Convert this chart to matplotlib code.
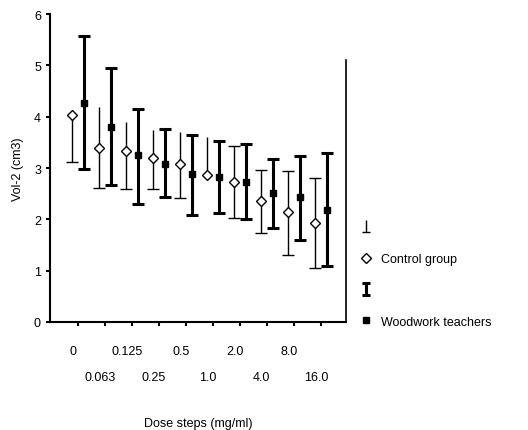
import numpy as np
import matplotlib
matplotlib.use("Agg")
import matplotlib.pyplot as plt
from matplotlib.lines import Line2D
from matplotlib.path import Path

plt.rcParams["font.family"] = ["Liberation Sans", "DejaVu Sans"]

# -----------------------------
# DATA
# -----------------------------
doses = ["0", "0.063", "0.125", "0.25", "0.5", "1.0", "2.0", "4.0", "8.0", "16.0"]

ctrl_mean = [4.04, 3.40, 3.34, 3.20, 3.08, 2.86, 2.72, 2.36, 2.14, 1.92]
ctrl_hi = [4.04, 4.18, 3.89, 3.75, 3.71, 3.60, 3.42, 2.97, 2.95, 2.80]
ctrl_lo = [3.11, 2.62, 2.59, 2.60, 2.41, 2.86, 2.02, 1.73, 1.31, 1.05]

wood_mean = [4.27, 3.79, 3.25, 3.08, 2.88, 2.82, 2.72, 2.51, 2.43, 2.18]
wood_hi = [5.58, 4.94, 4.15, 3.76, 3.64, 3.53, 3.46, 3.18, 3.24, 3.29]
wood_lo = [2.98, 2.67, 2.30, 2.43, 2.09, 2.12, 2.00, 1.83, 1.60, 1.10]

yticks = [0, 1, 2, 3, 4, 5, 6]

# -----------------------------
# FIGURE
# -----------------------------
fig = plt.figure(figsize=(5.28, 4.31), dpi=100)
ax = fig.add_axes([0.0947, 0.2506, 0.5603, 0.7144])

x = np.arange(len(doses))
off = 0.22
ctrl_mean = np.array(ctrl_mean)
wood_mean = np.array(wood_mean)
ctrl_err = [ctrl_mean - np.array(ctrl_lo), np.array(ctrl_hi) - ctrl_mean]
wood_err = [wood_mean - np.array(wood_lo), np.array(wood_hi) - wood_mean]

# control group: thin bars, cap at the low end
ax.errorbar(x - off, ctrl_mean, yerr=ctrl_err, fmt="none", ecolor="black",
            elinewidth=1.0, capsize=0, zorder=2)
has_lo = ctrl_err[0] > 0
ax.plot((x - off)[has_lo], np.array(ctrl_lo)[has_lo], ls="none", marker="_",
        ms=8.5, mew=1.0, color="black", zorder=2)
late = x >= 6
ax.plot((x - off)[late], np.array(ctrl_hi)[late], ls="none", marker="_",
        ms=8.5, mew=1.0, color="black", zorder=2)
ax.plot(x - off, ctrl_mean, ls="none", marker="D", ms=5.5, mfc="white",
        mec="black", mew=1.0, zorder=3)

# woodwork teachers: thick bars, both caps
ax.errorbar(x + off, wood_mean, yerr=wood_err, fmt="none", ecolor="black",
            elinewidth=2.2, capsize=4, capthick=2.2, zorder=2)
ax.plot(x + off, wood_mean, ls="none", marker="s", ms=5, color="black", zorder=3)

ax.set_xlim(-1.04, 9.91)
ax.set_ylim(0, 6)
ax.set_yticks(yticks)
ax.set_yticklabels([str(v) for v in yticks])
ax.set_xticks(x)
ax.set_xticklabels([])
ax.tick_params(axis="both", direction="out", length=3, width=1.5, labelsize=9)

# two staggered rows of dose labels
for i, lab in enumerate(doses):
    ypos = -0.094 if i % 2 == 0 else -0.179
    ax.text(i - 0.2, ypos, lab, transform=ax.get_xaxis_transform(),
            ha="center", va="center", fontsize=9)

ax.set_xlabel("Dose steps (mg/ml)", fontsize=9, labelpad=62)
ax.set_ylabel("Vol-2 (cm3)", fontsize=9, labelpad=7)

ax.spines["top"].set_visible(False)
ax.spines["left"].set_linewidth(1.5)
ax.spines["bottom"].set_linewidth(1.5)
ax.spines["right"].set_linewidth(1.2)
ax.spines["right"].set_bounds(0, 5.1)

# -----------------------------
# LEGEND
# -----------------------------
perp = Path([(0, 1), (0, -1), (-0.6, -1), (0.6, -1)],
            [Path.MOVETO, Path.LINETO, Path.MOVETO, Path.LINETO])
ibeam = Path([(-0.6, 1), (0.6, 1), (0, 1), (0, -1), (-0.6, -1), (0.6, -1)],
             [Path.MOVETO, Path.LINETO, Path.MOVETO, Path.LINETO,
              Path.MOVETO, Path.LINETO])
handles = [
    Line2D([], [], ls="none", marker=perp, ms=9, mew=1.0, color="black"),
    Line2D([], [], ls="none", marker="D", ms=5, mfc="white", mec="black", mew=1.0),
    Line2D([], [], ls="none", marker=ibeam, ms=9, mew=2.2, color="black"),
    Line2D([], [], ls="none", marker="s", ms=5, color="black"),
]
labels = ["", "Control group", "", "Woodwork teachers"]
fig.legend(handles, labels, loc="upper left", bbox_to_anchor=(0.672, 0.495),
           frameon=False, fontsize=9, handlelength=1.0, handletextpad=0.7,
           labelspacing=1.55, borderaxespad=0)

fig.savefig("out.png", dpi=100)
